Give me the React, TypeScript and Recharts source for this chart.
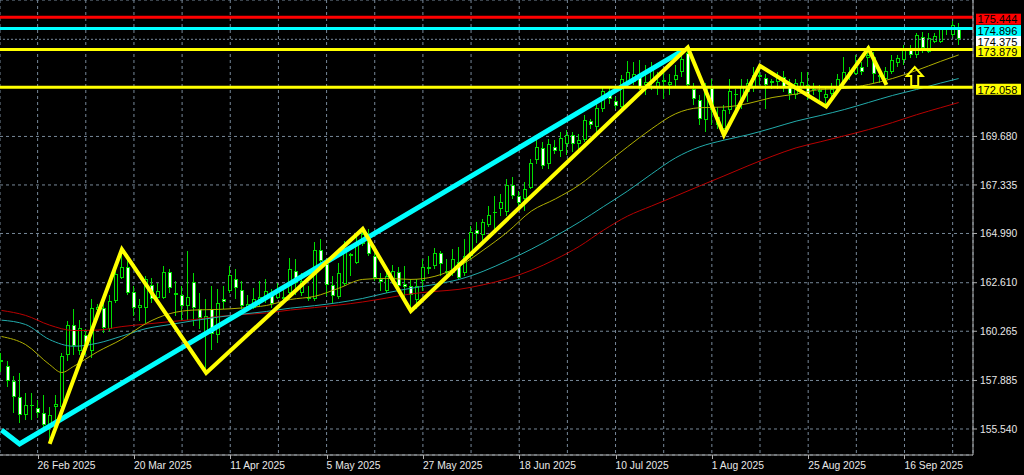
import React from 'react';
import { ComposedChart, Bar, Line, XAxis, YAxis, CartesianGrid, ReferenceLine, ReferenceDot } from 'recharts';

// Daily candles, index 0 = 18 Feb 2025
const opens = [
  158.79, 158.60, 157.84, 157.11, 156.22, 156.68, 156.54, 156.33, 155.73, 156.60,
  156.62, 159.13, 160.59, 159.29, 160.10, 159.29, 161.28, 161.40, 160.35, 161.72,
  162.85, 163.39, 162.16, 161.40, 161.40, 162.48, 161.88, 161.88, 163.15, 162.13,
  162.04, 161.48, 162.64, 161.34, 160.20, 161.32, 160.10, 161.83, 162.20, 162.81,
  162.24, 161.35, 161.40, 161.64, 161.88, 162.13, 161.88, 161.93, 162.13, 163.18,
  162.13, 161.93, 161.80, 164.19, 163.50, 162.48, 161.93, 162.53, 164.01, 163.58,
  164.47, 164.96, 163.90, 162.77, 162.20, 162.67, 163.11, 162.53, 162.45, 161.77,
  162.69, 163.29, 163.42, 164.03, 163.10, 163.10, 163.61, 163.10, 163.90, 165.17,
  164.91, 165.39, 166.04, 166.17, 166.01, 167.34, 166.79, 166.66, 167.18, 168.52,
  169.12, 168.36, 169.17, 169.00, 169.33, 169.76, 169.33, 169.49, 170.44, 170.14,
  171.00, 171.86, 171.38, 171.11, 172.32, 172.32, 172.72, 172.19, 172.32, 172.00,
  172.29, 172.16, 172.40, 172.81, 173.69, 171.99, 171.43, 170.46, 172.03, 170.62,
  170.05, 170.94, 171.67, 171.43, 171.84, 172.08, 172.56, 172.52, 172.24, 172.32,
  172.53, 172.09, 171.67, 172.08, 172.16, 171.91, 171.84, 171.54, 171.75, 171.91,
  172.29, 172.69, 172.72, 173.05, 173.45, 173.53, 172.64, 172.48, 172.81, 173.21,
  173.36, 173.94, 173.60, 174.51, 173.78, 174.26, 174.26, 174.83, 174.58, 174.87,
];
const highs = [
  159.23, 158.81, 158.08, 158.24, 157.27, 157.30, 156.95, 157.19, 156.62, 157.19,
  159.23, 160.75, 161.32, 160.83, 160.35, 161.80, 161.56, 161.72, 162.04, 163.34,
  164.27, 163.99, 162.45, 161.80, 162.93, 162.85, 162.61, 163.42, 163.26, 162.69,
  162.45, 164.15, 163.10, 162.13, 161.80, 162.45, 162.29, 162.45, 163.42, 163.26,
  162.69, 162.04, 162.37, 162.69, 162.77, 162.29, 162.61, 162.37, 163.80, 163.74,
  163.10, 162.45, 164.57, 164.71, 163.74, 162.93, 163.58, 164.63, 164.07, 164.87,
  165.30, 165.20, 164.23, 163.10, 163.26, 163.45, 163.36, 163.40, 162.77, 162.77,
  163.74, 163.90, 164.31, 164.15, 163.74, 164.23, 164.33, 164.71, 165.36, 165.53,
  165.69, 166.33, 166.82, 166.90, 167.63, 167.71, 167.06, 167.47, 168.60, 169.73,
  169.41, 169.57, 169.49, 169.89, 169.97, 169.89, 169.81, 170.70, 170.54, 171.51,
  172.08, 172.08, 171.59, 172.64, 173.31, 173.29, 173.37, 173.13, 173.29, 172.81,
  172.81, 172.72, 173.13, 173.78, 174.06, 172.24, 171.67, 172.24, 172.48, 171.11,
  171.19, 172.48, 171.99, 172.48, 172.48, 173.05, 173.16, 172.72, 172.48, 172.81,
  172.82, 172.48, 172.48, 172.81, 172.81, 172.24, 172.16, 172.08, 172.24, 172.72,
  173.54, 173.05, 173.61, 173.29, 174.03, 173.78, 172.81, 173.05, 173.61, 173.61,
  174.10, 174.10, 174.67, 174.75, 174.67, 174.67, 174.99, 174.99, 175.25, 175.15,
];
const lows = [
  158.31, 157.59, 156.30, 155.82, 155.98, 155.98, 156.06, 155.57, 154.85, 155.98,
  156.56, 158.81, 159.13, 159.13, 159.13, 158.97, 160.83, 160.19, 160.26, 161.64,
  162.77, 162.04, 160.99, 160.75, 160.67, 161.64, 161.56, 161.80, 162.13, 160.99,
  160.75, 160.83, 160.51, 160.35, 158.30, 159.37, 159.71, 161.32, 162.13, 161.80,
  161.32, 161.32, 161.32, 161.48, 161.64, 161.40, 161.80, 161.56, 161.96, 162.04,
  161.96, 161.72, 161.72, 163.40, 161.96, 161.64, 161.80, 162.45, 162.93, 163.50,
  164.39, 163.90, 162.69, 162.20, 162.13, 162.53, 162.29, 161.80, 161.25, 161.32,
  162.20, 163.02, 163.26, 162.93, 162.77, 162.93, 162.77, 162.93, 163.74, 164.55,
  164.47, 165.28, 165.04, 165.85, 165.85, 166.66, 166.33, 166.09, 167.14, 168.36,
  168.11, 168.11, 168.84, 168.68, 168.76, 168.92, 169.00, 169.41, 170.05, 169.73,
  170.86, 171.27, 171.03, 171.03, 172.19, 172.16, 171.91, 171.67, 171.91, 171.67,
  171.51, 171.67, 172.00, 172.56, 172.08, 171.19, 170.21, 169.89, 170.21, 170.05,
  169.81, 170.78, 170.86, 171.03, 171.35, 171.84, 172.16, 171.03, 171.99, 171.99,
  171.85, 171.43, 171.51, 171.99, 171.43, 171.67, 171.43, 171.17, 171.59, 171.84,
  172.16, 172.40, 172.64, 172.64, 173.05, 172.24, 172.24, 172.24, 172.72, 173.05,
  173.13, 173.45, 173.45, 173.69, 173.69, 174.18, 174.18, 174.58, 174.51, 174.10,
];
const closes = [
  158.89, 157.87, 157.11, 156.22, 156.71, 156.72, 156.30, 155.73, 156.22, 156.75,
  159.08, 160.59, 159.53, 160.43, 159.53, 161.40, 161.43, 160.43, 161.72, 163.02,
  163.39, 162.13, 161.40, 161.51, 162.81, 161.80, 162.20, 163.15, 162.37, 162.04,
  161.48, 161.93, 161.40, 160.91, 161.00, 160.15, 161.64, 161.70, 162.98, 162.35,
  161.48, 161.56, 161.83, 161.93, 162.20, 161.56, 162.29, 161.80, 163.29, 162.58,
  162.69, 161.80, 164.19, 163.65, 162.48, 161.99, 163.10, 164.09, 163.89, 164.47,
  164.96, 163.99, 162.85, 162.64, 162.93, 163.16, 162.43, 162.38, 162.04, 162.45,
  163.39, 163.39, 164.03, 163.50, 163.18, 163.74, 162.86, 163.90, 165.07, 164.96,
  165.53, 165.88, 165.98, 166.50, 167.34, 166.82, 166.46, 167.14, 168.39, 169.17,
  168.27, 169.33, 169.00, 169.60, 169.76, 169.33, 169.49, 170.46, 170.21, 171.06,
  171.90, 171.51, 171.16, 172.48, 172.81, 172.72, 172.08, 172.32, 173.05, 172.32,
  172.40, 172.32, 172.64, 173.42, 172.16, 171.48, 170.54, 172.08, 170.94, 170.21,
  170.94, 171.86, 171.72, 172.08, 172.24, 172.64, 172.64, 172.16, 172.35, 172.56,
  172.09, 171.75, 172.24, 172.29, 171.67, 171.99, 171.91, 171.75, 171.99, 172.48,
  172.81, 172.81, 173.05, 172.81, 173.61, 172.72, 172.53, 172.84, 173.37, 173.45,
  173.84, 173.60, 174.57, 173.94, 174.46, 174.55, 174.87, 174.91, 175.07, 174.375,
];

// Moving averages: [bar index, price]
const maYellow: [number, number][] = [
  [0, 160.01], [4, 159.62], [8, 158.65], [10, 158.27], [12, 158.57], [16, 159.28], [20, 159.88],
  [24, 160.64], [28, 161.12], [32, 161.29], [36, 161.32], [40, 161.39], [44, 161.51], [48, 161.80],
  [52, 161.95], [56, 162.34], [60, 162.77], [64, 162.82], [68, 162.77], [72, 162.92], [76, 163.40],
  [80, 164.18], [84, 165.05], [88, 166.07], [92, 166.66], [96, 167.34], [100, 168.26], [104, 169.18],
  [108, 170.05], [112, 170.78], [116, 171.07], [120, 171.10], [124, 171.27], [128, 171.56],
  [132, 171.73], [136, 171.95], [140, 172.00], [144, 172.19], [148, 172.48], [152, 172.87],
  [156, 173.31], [159, 173.62],
];
const maTeal: [number, number][] = [
  [0, 160.80], [4, 160.59], [8, 159.86], [12, 159.54], [16, 159.69], [20, 160.03], [24, 160.39],
  [28, 160.59], [32, 160.78], [36, 160.95], [40, 161.09], [44, 161.22], [48, 161.38], [52, 161.50],
  [56, 161.65], [60, 161.85], [64, 162.12], [68, 162.34], [72, 162.53], [76, 162.77], [80, 163.16],
  [84, 163.67], [88, 164.23], [92, 164.86], [96, 165.54], [100, 166.29], [104, 167.04], [108, 167.87],
  [112, 168.65], [116, 169.18], [120, 169.50], [124, 169.76], [128, 170.08], [132, 170.42],
  [136, 170.69], [140, 170.98], [144, 171.32], [148, 171.66], [152, 171.95], [156, 172.26],
  [159, 172.48],
];
const maRed: [number, number][] = [
  [0, 161.27], [4, 161.03], [8, 160.56], [12, 160.30], [16, 160.32], [20, 160.49], [24, 160.61],
  [28, 160.73], [32, 160.83], [36, 160.98], [40, 161.07], [44, 161.15], [48, 161.29], [52, 161.41],
  [56, 161.53], [60, 161.68], [64, 161.87], [68, 162.07], [72, 162.19], [76, 162.29], [80, 162.51],
  [84, 162.80], [88, 163.21], [92, 163.74], [96, 164.37], [100, 165.15], [104, 165.83], [108, 166.32],
  [112, 166.80], [116, 167.29], [120, 167.77], [124, 168.26], [128, 168.72], [132, 169.13],
  [136, 169.42], [140, 169.71], [144, 170.01], [148, 170.35], [152, 170.73], [156, 171.07],
  [159, 171.32],
];

// Hand-drawn objects
const zigzag: [number, number][] = [
  [8, 154.82], [20, 164.23], [34, 158.25], [60, 165.21], [68, 161.24], [114, 173.98],
  [120, 169.75], [126, 173.09], [137, 171.12], [144, 173.94], [147, 172.17],
];
const cyanTrend: [number, number][] = [[0, 155.49], [3, 154.82], [113, 173.80]];
const arrowMark = { i: 151.7, p: 172.12 };

const levelPrices = [175.444, 174.896, 173.879, 172.058];
const bidPrice = 174.375;

const priceTicks = [155.54, 157.885, 160.265, 162.61, 164.99, 167.335, 169.68];
const gridIdx = [6, 14, 22, 30, 38, 46, 54, 62, 70, 78, 86, 94, 102, 110, 118, 126, 134, 142, 150, 158];
const tickIdx = [6, 22, 38, 54, 70, 86, 102, 118, 134, 150];
const tickLabels = [
  '26 Feb 2025', '20 Mar 2025', '11 Apr 2025', '5 May 2025', '27 May 2025',
  '18 Jun 2025', '10 Jul 2025', '1 Aug 2025', '25 Aug 2025', '16 Sep 2025',
];

type Row = { i: number; o: number; h: number; l: number; c: number; [k: string]: number };
const rows: Row[] = opens.map((o, i) => ({ i, o, h: highs[i], l: lows[i], c: closes[i] }));
const put = (key: string, pts: [number, number][]) => pts.forEach(([i, v]) => { rows[i][key] = v; });
put('maY', maYellow);
put('maT', maTeal);
put('maR', maRed);
put('zz', zigzag);
put('ct', cyanTrend);

const FONT = "'Liberation Sans', Arial, sans-serif";
const GREEN = '#00dd00';
const AXIS = '#b0b0b0';
const TEXT = '#e8e8e8';

function Candle(props: any) {
  const { x, y, width, height, payload } = props;
  if (payload == null || x == null || y == null) return null;
  const top = Math.min(y, y + height);
  const bottom = Math.max(y, y + height);
  const { o, h, l, c } = payload;
  const k = h > l ? (bottom - top) / (h - l) : 0;
  const yO = top + (h - o) * k;
  const yC = top + (h - c) * k;
  const n = Math.round(x + width / 2);
  const bTop = Math.round(Math.min(yO, yC));
  const bBot = Math.round(Math.max(yO, yC));
  const wTop = Math.round(top);
  const wBot = Math.round(bottom);
  const bh = Math.max(bBot - bTop, 1);
  const bull = c >= o;
  return (
    <g>
      <rect x={n - 1} y={wTop} width={1} height={Math.max(wBot - wTop, 1)} fill={GREEN} />
      <rect x={n - 2} y={bTop} width={4} height={bh} fill={GREEN} />
      {bh > 2 && <rect x={n - 1} y={bTop + 1} width={2} height={bh - 2} fill={bull ? '#000000' : '#ffffff'} />}
    </g>
  );
}

function DateTick(props: any) {
  const { x, y, payload } = props;
  const k = tickIdx.indexOf(payload.value);
  if (k < 0) return null;
  const px = Math.round(x) + 0.5;
  return (
    <g>
      <line x1={px} x2={px} y1={y - 6} y2={y - 2} stroke={AXIS} strokeWidth={1} />
      <text x={x} y={y + 8} fill={TEXT} fontSize={10.3} fontFamily={FONT} textAnchor="start">
        {tickLabels[k]}
      </text>
    </g>
  );
}

const levelLabel = (text: string, bg: string) => (props: any) => {
  const vb = props.viewBox || {};
  const x0 = (vb.x ?? 0) + (vb.width ?? 0) + 3;
  const yl = vb.y ?? 0;
  return (
    <g>
      <rect x={x0} y={yl - 3.5} width={45} height={11} fill={bg} />
      <text x={x0 + 1.5} y={yl + 6.3} fill="#000000" fontSize={11} fontFamily={FONT}>
        {text}
      </text>
    </g>
  );
};

function ArrowShape(props: any) {
  const { cx, cy } = props;
  if (cx == null || cy == null) return null;
  const d = `M${cx - 3.5},${cy} L${cx - 3.5},${cy - 10} L${cx - 8},${cy - 10} L${cx},${cy - 19} L${cx + 8},${cy - 10} L${cx + 3.5},${cy - 10} L${cx + 3.5},${cy} Z`;
  return <path d={d} fill="none" stroke="#ffff00" strokeWidth={2} />;
}

const levelColors = ['#ff0000', '#00ffff', '#ffff00', '#ffff00'];
const drawOrder = [1, 2, 3, 0];

export default function App() {
  return (
    <div style={{ position: 'absolute', left: 0, top: 0, width: 1024, height: 475, background: '#000000', overflow: 'hidden' }}>
      <ComposedChart width={1024} height={475} data={rows} margin={{ top: 0, right: 0, bottom: 0, left: 0 }}>
        <CartesianGrid stroke="#778899" strokeDasharray="3 3" />
        <XAxis
          dataKey="i"
          type="number"
          domain={[-0.25, 161.38]}
          allowDataOverflow
          ticks={gridIdx}
          interval={0}
          height={20}
          tickSize={4}
          tickMargin={2}
          tickLine={false}
          axisLine={{ stroke: AXIS }}
          tick={<DateTick />}
        />
        <YAxis
          orientation="right"
          width={51}
          type="number"
          domain={[154.283, 176.275]}
          allowDataOverflow
          ticks={priceTicks}
          interval={0}
          tickSize={4}
          tickMargin={3}
          axisLine={{ stroke: AXIS }}
          tickLine={{ stroke: AXIS }}
          tick={{ fill: TEXT, fontSize: 10.3, fontFamily: FONT }}
          tickFormatter={(v: number) => v.toFixed(3)}
        />
        <Bar dataKey={(d: Row) => [d.l, d.h]} shape={Candle} barSize={4} isAnimationActive={false} />
        <Line dataKey="maR" type="monotone" stroke="#b80000" strokeWidth={1} dot={false} activeDot={false} connectNulls isAnimationActive={false} />
        <Line dataKey="maT" type="monotone" stroke="#22abab" strokeWidth={1} dot={false} activeDot={false} connectNulls isAnimationActive={false} />
        <Line dataKey="maY" type="monotone" stroke="#b0b000" strokeWidth={1} dot={false} activeDot={false} connectNulls isAnimationActive={false} />
        <Line dataKey="ct" type="linear" stroke="#00ffff" strokeWidth={5} dot={false} activeDot={false} connectNulls isAnimationActive={false} />
        <Line dataKey="zz" type="linear" stroke="#ffff00" strokeWidth={4} dot={false} activeDot={false} connectNulls isAnimationActive={false} />
        <ReferenceLine
          y={bidPrice}
          stroke="#778899"
          strokeDasharray="2 2"
          strokeWidth={1}
          label={levelLabel(bidPrice.toFixed(3), '#ffffff')}
        />
        {drawOrder.map((k) => (
          <ReferenceLine
            key={k}
            y={levelPrices[k]}
            stroke={levelColors[k]}
            strokeWidth={3}
            label={levelLabel(levelPrices[k].toFixed(3), levelColors[k])}
          />
        ))}
        <ReferenceDot x={arrowMark.i} y={arrowMark.p} r={1} shape={ArrowShape} />
      </ComposedChart>
    </div>
  );
}
